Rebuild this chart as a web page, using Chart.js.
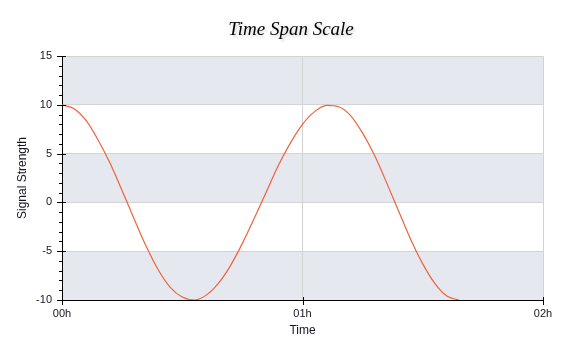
<!DOCTYPE html>
<html>
<head>
<meta charset="utf-8">
<title>Time Span Scale</title>
<script src="https://cdn.jsdelivr.net/npm/chart.js@4.4.1/dist/chart.umd.min.js"></script>
<style>
  html, body { margin: 0; padding: 0; background: #fff; }
  #chart { display: block; }
</style>
</head>
<body>
<canvas id="chart" width="572" height="362"></canvas>
<script>
// ------------------------------------------------------------
// DATA (minutes since 00h, signal strength)
// ------------------------------------------------------------
const minutes = [0, 3, 6, 9, 12, 15, 18, 21, 24, 27, 30, 33, 36, 39, 42, 45, 48,
  51, 54, 57, 60, 63, 66, 69, 72, 75, 78, 81, 84, 87, 90, 93, 96, 99];
const signal = [10, 9.6, 8.4, 6.4, 4.0, 1.2, -1.7, -4.5, -6.9, -8.7, -9.7, -10, -9.5, -8.3, -6.5, -4.2, -1.6,
  1.1, 3.8, 6.1, 8.0, 9.3, 9.95, 9.8, 8.9, 7.1, 4.8, 2.0, -0.9, -3.8, -6.3, -8.3, -9.6, -10];

const xTicks = [0, 60, 120];
const xTickLabels = ["00h", "01h", "02h"];
const yMin = -10, yMax = 15;
const shadedBands = [[10, 15], [0, 5], [-10, -5]];

const TEXT = "#141424";
const FONT = "'Liberation Sans', Arial, sans-serif";

// ------------------------------------------------------------
// PLUGIN: alternating bands, tick marks, axis titles, chart title
// ------------------------------------------------------------
const decorations = {
  id: "decorations",
  beforeDraw(chart) {
    const { ctx, chartArea: a, scales: { y } } = chart;
    ctx.save();
    ctx.fillStyle = "#e5e8ef";
    shadedBands.forEach(([lo, hi]) => {
      const top = y.getPixelForValue(hi);
      const bot = y.getPixelForValue(lo);
      ctx.fillRect(a.left, top, a.right - a.left, bot - top);
    });
    ctx.restore();
  },
  afterDraw(chart) {
    const { ctx, chartArea: a, scales: { x, y } } = chart;
    ctx.save();
    ctx.strokeStyle = "#000";
    ctx.lineWidth = 1;

    // y ticks (major every 5, minor every 1)
    for (let v = yMin; v <= yMax; v++) {
      const py = Math.round(y.getPixelForValue(v)) + 0.5;
      const major = v % 5 === 0;
      ctx.beginPath();
      ctx.moveTo(a.left - (major ? 5 : 3), py);
      ctx.lineTo(a.left + (major ? 4 : 1), py);
      ctx.stroke();
    }
    // x ticks
    xTicks.forEach(t => {
      const px = Math.round(x.getPixelForValue(t)) + 0.5;
      ctx.beginPath();
      ctx.moveTo(px, a.bottom - 3);
      ctx.lineTo(px, a.bottom + 5);
      ctx.stroke();
    });

    // axis titles
    ctx.fillStyle = TEXT;
    ctx.font = "12px " + FONT;
    ctx.textAlign = "center";
    ctx.textBaseline = "middle";
    ctx.fillText("Time", (a.left + a.right) / 2, 331);
    ctx.translate(23, (a.top + a.bottom) / 2);
    ctx.rotate(-Math.PI / 2);
    ctx.fillText("Signal Strength", 0, 0);
    ctx.restore();

    // chart title with soft shadow
    ctx.save();
    ctx.font = "italic 19px 'Liberation Serif', 'Times New Roman', serif";
    ctx.fillStyle = "#000";
    ctx.textAlign = "center";
    ctx.textBaseline = "middle";
    ctx.shadowColor = "rgba(60,60,90,0.22)";
    ctx.shadowBlur = 3;
    ctx.shadowOffsetX = 2;
    ctx.shadowOffsetY = 2;
    ctx.fillText("Time Span Scale", 291, 30);
    ctx.restore();
  }
};

new Chart(document.getElementById("chart"), {
  type: "line",
  data: {
    datasets: [{
      label: "Signal",
      data: minutes.map((m, i) => ({ x: m, y: signal[i] })),
      borderColor: "#f0623c",
      borderWidth: 1.2,
      pointRadius: 0,
      cubicInterpolationMode: "monotone",
      fill: false
    }]
  },
  options: {
    responsive: false,
    animation: false,
    layout: { padding: { top: 56, right: 29, left: 0, bottom: 0 } },
    plugins: {
      legend: { display: false },
      title: { display: false },
      tooltip: { enabled: false }
    },
    scales: {
      x: {
        type: "linear",
        min: 0,
        max: 120,
        afterFit: s => { s.height = 62; },
        afterBuildTicks: s => { s.ticks = xTicks.map(v => ({ value: v })); },
        ticks: {
          padding: 7,
          color: TEXT,
          font: { family: FONT, size: 11 },
          callback: v => xTickLabels[xTicks.indexOf(v)] || ""
        },
        grid: {
          drawTicks: false,
          color: ctx => (ctx.tick && ctx.tick.value !== 0) ? "#d3d3d3" : "rgba(0,0,0,0)"
        },
        border: { color: "#000", width: 1 }
      },
      y: {
        min: yMin,
        max: yMax,
        afterFit: s => { s.width = 62; },
        ticks: {
          stepSize: 5,
          padding: 10,
          color: TEXT,
          font: { family: FONT, size: 11 }
        },
        grid: {
          drawTicks: false,
          color: ctx => (ctx.tick && ctx.tick.value !== yMin) ? "#d3d3d3" : "rgba(0,0,0,0)"
        },
        border: { color: "#000", width: 1 }
      }
    }
  },
  plugins: [decorations]
});
</script>
</body>
</html>
